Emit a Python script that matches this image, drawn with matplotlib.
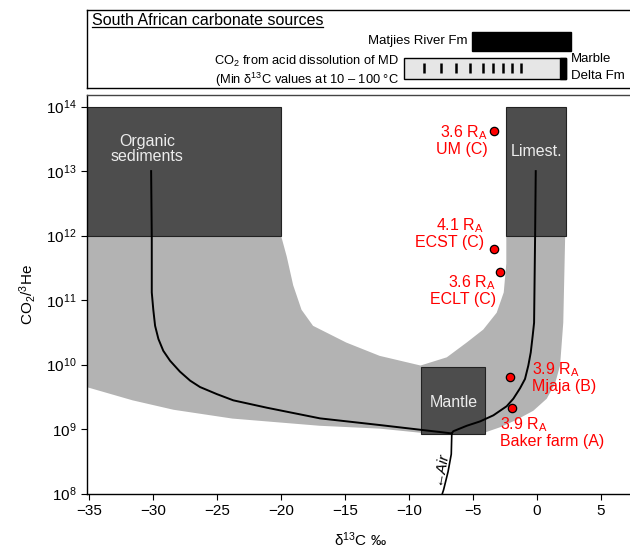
import matplotlib
matplotlib.use('Agg')
import matplotlib.pyplot as plt
import matplotlib.patches as patches
from matplotlib.lines import Line2D
from matplotlib.ticker import NullLocator

plt.rcParams['font.family'] = ['Liberation Sans', 'DejaVu Sans']
plt.rcParams['mathtext.fontset'] = 'custom'
plt.rcParams['mathtext.rm'] = 'Liberation Sans'
plt.rcParams['mathtext.it'] = 'Liberation Sans:italic'
plt.rcParams['mathtext.bf'] = 'Liberation Sans:bold'

# --- data ---
# grey mixing envelope (outer edge, then inner edge back)
band_x = [-35.2, -35.2, -31.6, -28.4, -23.8, -17.0, -12.3, -9.1, -4.06, -2.89, -1.59, -0.29, 0.76, 1.41, 1.8, 2.05, 2.2,
          -2.4, -2.4, -2.6, -3.15, -4.2, -5.5, -7.05, -9.1, -12.3, -14.9, -17.5, -18.4, -19.05, -19.55, -20.0]
band_y = [1e12, 4.5e9, 2.8e9, 2.0e9, 1.46e9, 1.13e9, 1.02e9, 8.8e8, 8.9e8, 1.07e9, 1.4e9, 1.93e9, 2.97e9, 5.1e9, 9.7e9, 4.47e10, 1e12,
          1e12, 3.7e11, 1.32e11, 6.4e10, 3.5e10, 2.2e10, 1.3e10, 9.7e9, 1.37e10, 2.2e10, 4.0e10, 7.1e10, 1.7e11, 4.7e11, 1e12]

# end-member boxes: (d13C min, d13C max, CO2/3He min, CO2/3He max)
organic_box = (-35.2, -20.0, 1e12, 1e14)
limest_box = (-2.42, 2.27, 1e12, 1e14)
mantle_box = (-9.06, -4.06, 8.5e8, 9.2e9)

# mixing curves
organic_x = [-30.15, -30.1, -30.1, -29.98, -29.84, -29.58, -29.2, -28.67, -27.9, -27.1, -26.33, -25.02,
             -23.73, -21.1, -16.95, -12.3, -6.66]
organic_y = [1e13, 1e12, 1.32e11, 7.1e10, 4.0e10, 2.5e10, 1.64e10, 1.15e10, 7.8e9, 5.65e9, 4.5e9, 3.5e9,
             2.8e9, 2.15e9, 1.47e9, 1.16e9, 8.6e8]
limest_x = [-0.1, -0.15, -0.23, -0.34, -0.49, -0.68, -0.94, -1.33, -1.85, -2.37, -3.41, -4.45, -5.49, -6.54, -6.66]
limest_y = [1e13, 1e12, 4.47e10, 2.8e10, 1.55e10, 9.7e9, 6.0e9, 4.3e9, 2.97e9, 2.27e9, 1.64e9, 1.32e9, 1.13e9,
            9.3e8, 8.6e8]
air_x = [-6.66, -6.7, -6.95, -7.3, -7.4]
air_y = [8.6e8, 4.1e8, 2.2e8, 1.15e8, 1e8]

# samples
sample_names = ['UM (C)', 'ECST (C)', 'ECLT (C)', 'Mjaja (B)', 'Baker farm (A)']
sample_ra = [3.6, 4.1, 3.6, 3.9, 3.9]
sample_d13c = [-3.4, -3.4, -2.9, -2.1, -1.95]
sample_co2he = [4.2e13, 6.3e11, 2.7e11, 6.5e9, 2.1e9]

# top panel: carbonate sources
matjies_range = (-5.1, 2.65)
md_range = (-10.4, 2.27)
md_ticks = [-8.8, -7.5, -6.35, -5.25, -4.2, -3.45, -2.65, -1.95, -1.25]

xticks = [-35, -30, -25, -20, -15, -10, -5, 0, 5]
yexps = [8, 9, 10, 11, 12, 13, 14]

dark = '#4d4d4d'
band_grey = '#b3b3b3'
red = '#ff0000'

fig = plt.figure(figsize=(6.3, 5.51), dpi=100)
ax = fig.add_axes([0.1381, 0.104, 0.8667, 0.7236])
ax.set_yscale('log')
ax.set_xlim(-35.16, 7.5)
ax.set_ylim(1e8, 10 ** 14.18)

ax.fill(band_x, band_y, color=band_grey, lw=0, zorder=1)

for (x0, x1, y0, y1) in [organic_box, limest_box, mantle_box]:
    ax.add_patch(patches.Rectangle((x0, y0), x1 - x0, y1 - y0, facecolor=dark,
                                   edgecolor='#222222', linewidth=0.8, zorder=2))

ax.plot(organic_x, organic_y, color='black', lw=1.4, zorder=3, solid_joinstyle='round')
ax.plot(limest_x, limest_y, color='black', lw=1.4, zorder=3, solid_joinstyle='round')
ax.plot(air_x, air_y, color='black', lw=1.2, zorder=3)

ax.plot(sample_d13c, sample_co2he, 'o', color=red, mec='black', mew=0.9, ms=6, zorder=5)

# box labels
lab_col = '#ececec'
ax.text(-30.47, 2.2e13, 'Organic\nsediments', color=lab_col, ha='center', va='center',
        fontsize=11.5, linespacing=1.05, zorder=4)
ax.text(0.0, 2.0e13, 'Limest.', color=lab_col, ha='center', va='center', fontsize=11.5, zorder=4)
ax.text(-6.54, 2.6e9, 'Mantle', color=lab_col, ha='center', va='center', fontsize=11.5, zorder=4)
ax.text(-7.6, 2.5e8, '←Air', rotation=80, ha='center', va='center', fontsize=11,
        style='italic', family=['Liberation Sans', 'DejaVu Sans'], zorder=4)

# sample labels: (x, y, ha)
label_pos = [(-3.83, 3.0e13, 'right'), (-4.14, 1.08e12, 'right'), (-3.2, 1.43e11, 'right'),
             (-0.41, 6.5e9, 'left'), (-2.89, 9.1e8, 'left')]
for name, ra, (lx, ly, ha) in zip(sample_names, sample_ra, label_pos):
    ax.text(lx, ly, '%.1f R$_\\mathregular{A}$\n%s' % (ra, name), color=red, ha=ha, va='center',
            multialignment=ha, fontsize=11.5, linespacing=1.0, zorder=6)

ax.set_xticks(xticks)
ax.set_xticklabels(['\u2212%d' % -t if t < 0 else '%d' % t for t in xticks])
ax.set_yticks([10.0 ** e for e in yexps])
ax.set_yticklabels(['$10^{%d}$' % e for e in yexps])
ax.yaxis.set_minor_locator(NullLocator())
ax.tick_params(direction='out', length=4, width=0.8, labelsize=11)
ax.set_xlabel('δ$^{13}$C ‰', fontsize=11, labelpad=9)
ax.set_ylabel('CO$_2$/$^3$He', fontsize=11, labelpad=6)
for s in ax.spines.values():
    s.set_linewidth(1.0)
ax.spines['top'].set_color('#444444')

# --- top panel ---
axt = fig.add_axes([0.1381, 0.8403, 0.8667, 0.1416])
axt.set_xlim(ax.get_xlim())
axt.set_ylim(0, 1)
axt.set_xticks([])
axt.set_yticks([])
for s in axt.spines.values():
    s.set_linewidth(1.0)

title = axt.text(-34.77, 0.87, 'South African carbonate sources', fontsize=11.5, ha='left', va='center')
axt.add_patch(patches.Rectangle((matjies_range[0], 0.474), matjies_range[1] - matjies_range[0], 0.244,
                                facecolor='black', edgecolor='black', lw=1))
axt.text(matjies_range[0] - 0.35, 0.60, 'Matjies River Fm', fontsize=9.5, ha='right', va='center')

axt.add_patch(patches.Rectangle((md_range[0], 0.115), md_range[1] - md_range[0], 0.27,
                                facecolor='#e6e6e6', edgecolor='black', lw=1))
axt.add_patch(patches.Rectangle((md_range[1] - 0.45, 0.115), 0.45, 0.27,
                                facecolor='black', edgecolor='black', lw=1))
axt.vlines(md_ticks, 0.19, 0.32, color='black', lw=1.8)
axt.text(md_range[0] - 0.4, 0.335, 'CO$_2$ from acid dissolution of MD', fontsize=9.3, ha='right', va='center')
axt.text(md_range[0] - 0.4, 0.11, '(Min δ$^{13}$C values at 10 \u2013 100 °C', fontsize=9.3, ha='right', va='center')
axt.text(md_range[1] + 0.35, 0.37, 'Marble', fontsize=9.5, ha='left', va='center')
axt.text(md_range[1] + 0.35, 0.16, 'Delta Fm', fontsize=9.5, ha='left', va='center')

# underline the title
fig.canvas.draw()
bb = title.get_window_extent()
inv = fig.transFigure.inverted()
(x0, y0), (x1, _) = inv.transform([(bb.x0, bb.y0 + 1), (bb.x1, bb.y0)])
fig.add_artist(Line2D([x0, x1], [y0, y0], transform=fig.transFigure, color='black', lw=0.9))

fig.savefig('out.png', dpi=100)
